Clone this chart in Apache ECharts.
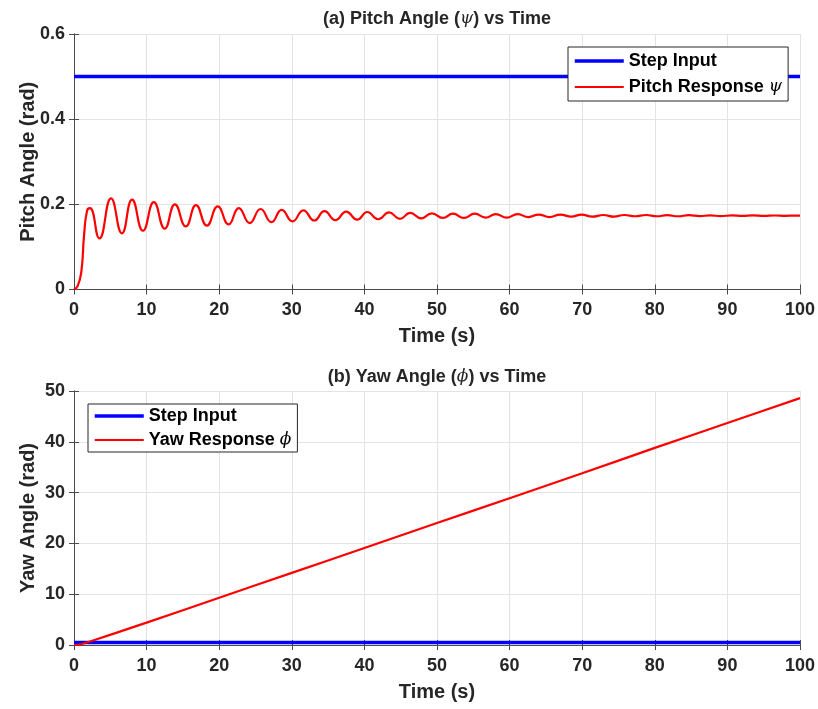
<!DOCTYPE html>
<html><head><meta charset="utf-8">
<script src="https://cdn.jsdelivr.net/npm/echarts@6/dist/echarts.min.js"></script>
<style>html,body{margin:0;padding:0;background:#fff}#c{width:818px;height:709px}</style>
</head><body><div id="c"></div>
<script>
// ---- data ----
const stepTime = [0, 100];
const pitchStepValues = [0.5, 0.5];
const yawStepValues = [0.5, 0.5];

const pitchTime = [
  0, 0.5, 1.0, 1.4, 1.8, 2.2,
  3.5, 5.1, 6.6, 8.0, 9.5, 11.0, 12.5, 13.9, 15.4, 16.8,
  18.3, 19.8, 21.3, 22.7, 24.2, 25.7, 27.2, 28.6, 30.1, 31.6,
  33.1, 34.5, 36.0, 37.5, 39.0, 40.4, 41.9, 43.4, 44.9, 46.3,
  47.8, 49.3, 50.8, 52.2, 53.7, 55.2, 56.7, 58.1, 59.6, 61.1,
  62.6, 64.0, 65.5, 67.0, 68.5, 69.9, 71.4, 72.9, 74.4, 75.8,
  77.3, 78.8, 80.3, 81.7, 83.2, 84.7, 86.2, 87.6, 89.1, 90.6,
  92.1, 93.5, 95.0, 96.5, 98.0, 99.4, 100
];
const pitchValues = [
  0, 0.008, 0.04, 0.13, 0.185, 0.191,
  0.120, 0.214, 0.132, 0.211, 0.138, 0.205, 0.143, 0.200, 0.148, 0.198,
  0.150, 0.195, 0.153, 0.191, 0.156, 0.189, 0.158, 0.187, 0.160, 0.186,
  0.162, 0.184, 0.163, 0.183, 0.164, 0.182, 0.165, 0.181, 0.166, 0.180,
  0.167, 0.179, 0.168, 0.178, 0.168, 0.178, 0.169, 0.177, 0.169, 0.177,
  0.170, 0.176, 0.170, 0.176, 0.171, 0.176, 0.171, 0.175, 0.171, 0.175,
  0.172, 0.175, 0.172, 0.1745, 0.172, 0.1745, 0.1723, 0.174, 0.1725, 0.174,
  0.1727, 0.174, 0.1728, 0.1738, 0.173, 0.1737, 0.1735
];

const yawTime = [0, 1, 2, 10, 20, 30, 40, 50, 60, 70, 80, 90, 100];
const yawValues = [0, 0.15, 0.6, 4.4, 9.3, 14.2, 19.1, 24.0, 28.9, 33.8, 38.8, 43.7, 48.6];

const xTickInterval = 10;
const pitchTickInterval = 0.2;
const yawTickInterval = 10;

// ---- chart ----
const zip = (a, b) => a.map((v, i) => [v, b[i]]);
const FONT = 'Liberation Sans, Arial, sans-serif';
const TXT = '#262626';
const AX = '#4a4a4a';
const GRID = '#e3e3e3';
const BLUE = '#0000ff', RED = '#ff0000';
const STEP_W = 3.5, RESP_W = 2.2;

const chart = echarts.init(document.getElementById('c'), null, {renderer: 'canvas'});

function xAxisMain(gi) {
  return {
    type: 'value', gridIndex: gi, min: 0, max: 100, interval: xTickInterval,
    name: 'Time (s)', nameLocation: 'middle', nameGap: 37, nameMoveOverlap: false,
    nameTextStyle: {fontFamily: FONT, fontWeight: 'bold', fontSize: 20, color: TXT},
    axisLine: {show: true, lineStyle: {color: AX, width: 1}},
    axisTick: {show: true, inside: true, length: 5, lineStyle: {color: AX}},
    axisLabel: {fontFamily: FONT, fontWeight: 'bold', fontSize: 18, color: TXT, margin: 12},
    splitLine: {show: true, lineStyle: {color: GRID, width: 1}}
  };
}
function xAxisTop(gi) {
  return {
    type: 'value', gridIndex: gi, min: 0, max: 100, interval: xTickInterval, position: 'top',
    axisLine: {show: true, lineStyle: {color: AX, width: 1}},
    axisTick: {show: true, inside: true, length: 5, lineStyle: {color: AX}},
    axisLabel: {show: false}, splitLine: {show: false}
  };
}
function yAxisMain(gi, max, itv, name) {
  return {
    type: 'value', gridIndex: gi, min: 0, max: max, interval: itv,
    name: name, nameLocation: 'middle', nameGap: 36, nameMoveOverlap: false,
    nameTextStyle: {fontFamily: FONT, fontWeight: 'bold', fontSize: 20, color: TXT},
    axisLine: {show: true, lineStyle: {color: AX, width: 1}},
    axisTick: {show: true, inside: true, length: 5, lineStyle: {color: AX}},
    axisLabel: {fontFamily: FONT, fontWeight: 'bold', fontSize: 18, color: TXT, margin: 9},
    splitLine: {show: true, lineStyle: {color: GRID, width: 1}}
  };
}
function yAxisRight(gi, max, itv) {
  return {
    type: 'value', gridIndex: gi, min: 0, max: max, interval: itv, position: 'right',
    axisLine: {show: true, lineStyle: {color: AX, width: 1}},
    axisTick: {show: true, inside: true, length: 5, lineStyle: {color: AX}},
    axisLabel: {show: false}, splitLine: {show: false}
  };
}

const richTitle = {
  b: {fontFamily: FONT, fontWeight: 'bold', fontSize: 18, color: TXT},
  g: {fontFamily: 'DejaVu Serif, Liberation Serif, serif', fontStyle: 'italic', fontWeight: 'normal', fontSize: 17, color: TXT}
};
const richLegend = {
  b: {fontFamily: FONT, fontWeight: 'bold', fontSize: 18, color: '#000', lineHeight: 18},
  g: {fontFamily: 'DejaVu Serif, Liberation Serif, serif', fontStyle: 'italic', fontWeight: 'normal', fontSize: 17, color: '#000', lineHeight: 18}
};
const legendFmt = name => {
  const m = name.match(/^(.*?)\s*([ψϕ])$/);
  return m ? '{b|' + m[1] + ' }{g|' + m[2] + '}' : '{b|' + name.trim() + '}';
};
const legendCommon = {
  orient: 'vertical', itemWidth: 49, itemHeight: 14,
  borderColor: '#262626', borderWidth: 1, backgroundColor: '#fff',
  itemStyle: {opacity: 0}, formatter: legendFmt, textStyle: {rich: richLegend}, selectedMode: false
};

const option = {
  animation: false,
  backgroundColor: '#fff',
  title: [
    {text: '{b|(a) Pitch Angle (}{g|ψ}{b|) vs Time}', left: 432, top: 5, textAlign: 'center',
     textStyle: {rich: richTitle}},
    {text: '{b|(b) Yaw Angle (}{g|ϕ}{b|) vs Time}', left: 432, top: 363, textAlign: 'center',
     textStyle: {rich: richTitle}}
  ],
  legend: [
    Object.assign({data: [
        {name: 'Step Input', lineStyle: {width: STEP_W, color: BLUE}},
        {name: 'Pitch Response ψ', lineStyle: {width: RESP_W, color: RED}}],
      left: 568, top: 47, itemGap: 8, padding: [5, 6, 5, 5]}, legendCommon),
    Object.assign({data: [
        {name: 'Step Input ', lineStyle: {width: STEP_W, color: BLUE}},
        {name: 'Yaw Response ϕ', lineStyle: {width: RESP_W, color: RED}}],
      left: 88, top: 404, itemGap: 6, padding: [3, 6, 3, 5]}, legendCommon)
  ],
  grid: [
    {left: 74, right: 18, top: 34, height: 255.5, show: false},
    {left: 74, right: 18, top: 391, height: 254, show: false}
  ],
  xAxis: [xAxisMain(0), xAxisMain(1), xAxisTop(0), xAxisTop(1)],
  yAxis: [
    yAxisMain(0, 0.6, pitchTickInterval, 'Pitch Angle (rad)'),
    yAxisMain(1, 50, yawTickInterval, 'Yaw Angle (rad)'),
    yAxisRight(0, 0.6, pitchTickInterval),
    yAxisRight(1, 50, yawTickInterval)
  ],
  series: [
    {name: 'Step Input', type: 'line', xAxisIndex: 0, yAxisIndex: 0, symbol: 'none',
     data: zip(stepTime, pitchStepValues), lineStyle: {color: BLUE, width: STEP_W}, itemStyle: {color: BLUE}},
    {name: 'Pitch Response ψ', type: 'line', xAxisIndex: 0, yAxisIndex: 0, symbol: 'none', smooth: 0.5,
     data: zip(pitchTime, pitchValues), lineStyle: {color: RED, width: RESP_W}, itemStyle: {color: RED}},
    {name: 'Step Input ', type: 'line', xAxisIndex: 1, yAxisIndex: 1, symbol: 'none',
     data: zip(stepTime, yawStepValues), lineStyle: {color: BLUE, width: STEP_W}, itemStyle: {color: BLUE}},
    {name: 'Yaw Response ϕ', type: 'line', xAxisIndex: 1, yAxisIndex: 1, symbol: 'none', smooth: 0.3,
     data: zip(yawTime, yawValues), lineStyle: {color: RED, width: RESP_W}, itemStyle: {color: RED}}
  ]
};
chart.setOption(option);
</script>
</body></html>
